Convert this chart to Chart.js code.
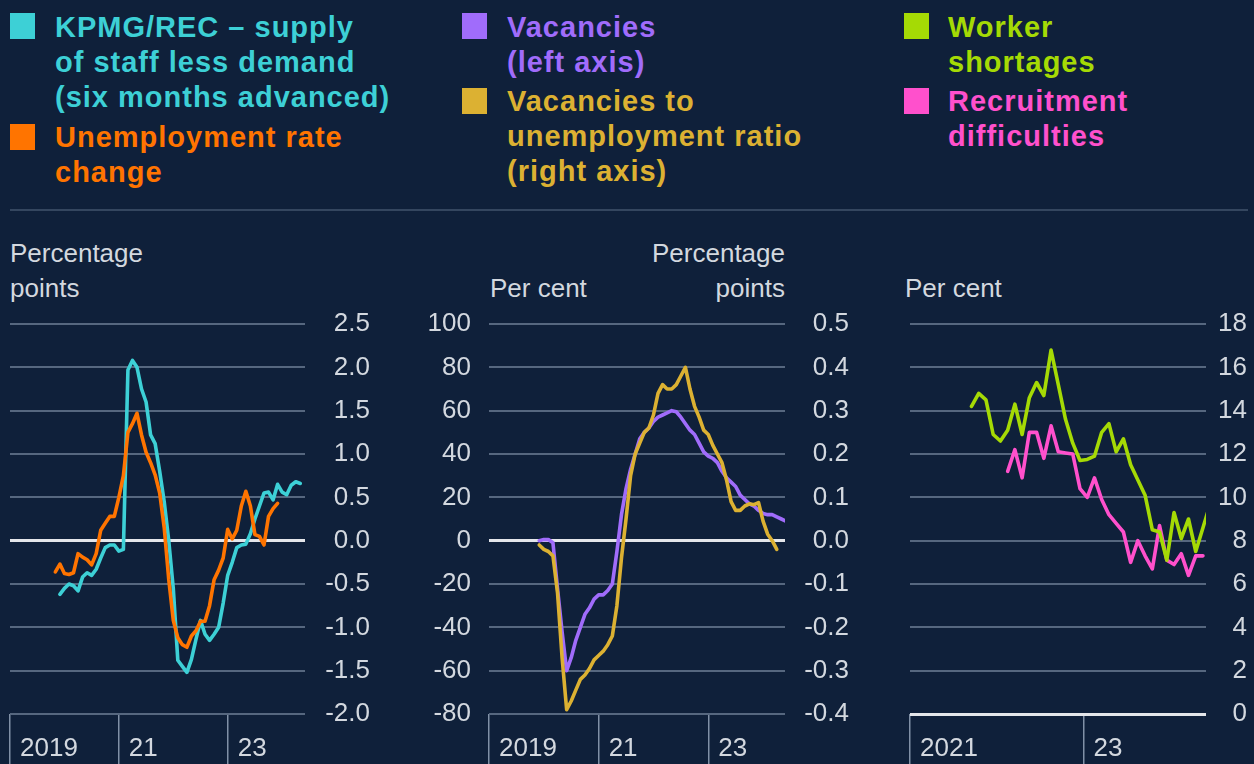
<!DOCTYPE html>
<html>
<head>
<meta charset="utf-8">
<script src="https://cdn.jsdelivr.net/npm/chart.js@4.4.1/dist/chart.umd.min.js"></script>
<style>
  html, body { margin: 0; padding: 0; }
  body {
    width: 1254px; height: 764px; overflow: hidden; position: relative;
    background: #0f203a; font-family: "Liberation Sans", Arial, sans-serif; color: #d3d8df;
  }
  .key { position: absolute; font-weight: bold; font-size: 29px; line-height: 35px; letter-spacing: 1px; }
  .sq { position: absolute; width: 25px; height: 26px; }
  .sep { position: absolute; left: 10px; top: 209px; width: 1238px; height: 2px; background: #34465f; }
  .ttl { position: absolute; font-size: 26px; line-height: 35px; color: #d3d8df; }
  canvas { position: absolute; }
</style>
</head>
<body>

<div class="sq" style="left:10px;top:13px;background:#3dd0d6"></div>
<div class="key" style="left:55px;top:10px;color:#3dd0d6">KPMG/REC – supply<br>of staff less demand<br>(six months advanced)</div>
<div class="sq" style="left:10px;top:124px;background:#ff7400"></div>
<div class="key" style="left:55px;top:120px;color:#ff7400">Unemployment rate<br>change</div>

<div class="sq" style="left:462px;top:13px;background:#a06cfb"></div>
<div class="key" style="left:507px;top:10px;color:#a06cfb">Vacancies<br>(left axis)</div>
<div class="sq" style="left:462px;top:88px;background:#dcb132"></div>
<div class="key" style="left:507px;top:84px;color:#dcb132">Vacancies to<br>unemployment ratio<br>(right axis)</div>

<div class="sq" style="left:904px;top:13px;background:#a5da05"></div>
<div class="key" style="left:948px;top:10px;color:#a5da05">Worker<br>shortages</div>
<div class="sq" style="left:904px;top:88px;background:#ff50cc"></div>
<div class="key" style="left:948px;top:84px;color:#ff50cc">Recruitment<br>difficulties</div>

<div class="sep"></div>

<div class="ttl" style="left:10px;top:236px">Percentage<br>points</div>
<div class="ttl" style="left:490px;top:271px">Per cent</div>
<div class="ttl" style="left:600px;top:236px;width:185px;text-align:right">Percentage<br>points</div>
<div class="ttl" style="left:905px;top:271px">Per cent</div>

<canvas id="c1" width="380" height="460" style="left:0;top:304px"></canvas>
<canvas id="c2" width="460" height="460" style="left:400px;top:304px"></canvas>
<canvas id="c3" width="374" height="460" style="left:880px;top:304px"></canvas>

<script>
// ---- data (monthly) ----
// panel 1: percentage points
const kpmgStart = [2019, 12];
const kpmgValues = [-0.62, -0.55, -0.50, -0.52, -0.58, -0.42, -0.37, -0.40, -0.33, -0.20,
  -0.08, -0.05, -0.05, -0.12, -0.10, 1.97, 2.08, 2.00, 1.75, 1.60,
  1.22, 1.12, 0.80, 0.45, 0.00, -0.55, -1.38, -1.45, -1.52, -1.37,
  -1.14, -0.92, -1.08, -1.15, -1.08, -1.00, -0.72, -0.40, -0.25, -0.08,
  -0.05, -0.04, 0.08, 0.25, 0.40, 0.55, 0.56, 0.47, 0.65, 0.56,
  0.53, 0.64, 0.68, 0.66];
const unempStart = [2019, 11];
const unempValues = [-0.36, -0.27, -0.38, -0.39, -0.37, -0.15, -0.19, -0.22, -0.28, -0.15,
  0.12, 0.20, 0.28, 0.28, 0.50, 0.75, 1.25, 1.35, 1.47, 1.22,
  1.02, 0.90, 0.76, 0.55, 0.15, -0.45, -0.92, -1.12, -1.20, -1.23,
  -1.10, -1.04, -0.93, -0.93, -0.75, -0.45, -0.34, -0.20, 0.13, 0.02,
  0.12, 0.40, 0.57, 0.40, 0.07, 0.05, -0.05, 0.28, 0.37, 0.43];

// panel 2: vacancies (per cent, left) and V/U ratio (percentage points, right)
const vacStart = [2019, 12];
const vacValues = [0, 0.5, 0.5, -1, -22, -42, -60, -54, -46, -40,
  -34, -31, -27, -25, -25, -23, -20, -5, 12, 24,
  33, 40, 47, 50, 52, 55, 57, 58, 59, 60,
  59.5, 57, 54, 51, 49, 45, 41, 39, 38, 36,
  32, 29, 27, 25, 21, 19, 17, 16, 14, 12.5,
  12, 12, 11, 10, 9];
const vuStart = [2019, 12];
const vuValues = [-0.01, -0.02, -0.025, -0.035, -0.12, -0.27, -0.39, -0.37, -0.345, -0.32,
  -0.31, -0.295, -0.275, -0.265, -0.255, -0.24, -0.22, -0.15, -0.04, 0.05,
  0.15, 0.20, 0.225, 0.25, 0.26, 0.29, 0.34, 0.36, 0.35, 0.35,
  0.36, 0.38, 0.40, 0.35, 0.31, 0.285, 0.255, 0.245, 0.22, 0.20,
  0.18, 0.14, 0.09, 0.07, 0.07, 0.08, 0.085, 0.083, 0.088, 0.045,
  0.015, 0.0, -0.02];

// panel 3: survey measures, per cent (mid-month)
const shortStart = [2021, 9];
const shortValues = [14.2, 14.8, 14.5, 12.9, 12.6, 13.1, 14.3, 12.9, 14.6, 15.3,
  14.7, 16.8, 15.2, 13.6, 12.5, 11.7, 11.75, 11.9, 13.0, 13.4,
  12.1, 12.7, 11.5, 10.8, 10.1, 8.5, 8.4, 7.1, 9.3, 8.1,
  9.0, 7.5, 8.6, 9.7];
const recruitStart = [2022, 2];
const recruitValues = [11.2, 12.2, 10.9, 13.0, 13.0, 11.8, 13.3, 12.1, 12.05, 12.0,
  10.4, 10.0, 10.9, 9.9, 9.2, 8.8, 8.4, 7.0, 8.0, 7.3,
  6.7, 8.7, 7.1, 6.9, 7.4, 6.4, 7.3, 7.3];

// axis ticks
const yTicks1 = [-2.0, -1.5, -1.0, -0.5, 0.0, 0.5, 1.0, 1.5, 2.0, 2.5];
const yTicks2L = [-80, -60, -40, -20, 0, 20, 40, 60, 80, 100];
const yTicks2R = [-0.4, -0.3, -0.2, -0.1, 0.0, 0.1, 0.2, 0.3, 0.4, 0.5];
const yTicks3 = [0, 2, 4, 6, 8, 10, 12, 14, 16, 18];
const xTicks12 = [2019, 2021, 2023];
const xLabels12 = ['2019', '21', '23'];
const xTicks3 = [2021, 2023];
const xLabels3 = ['2021', '23'];

const COLORS = {
  kpmg: '#3dd0d6', unemp: '#ff7400', vac: '#a06cfb', vu: '#dcb132',
  short: '#a5da05', recruit: '#ff50cc'
};
const GRID = '#56677f';
const ZERO = '#e4e6ea';
const TEXT = '#d3d8df';
const FONT = { family: '"Liberation Sans", Arial, sans-serif', size: 26 };

function monthly(start, values, mid) {
  return values.map((v, i) => ({ x: start[0] + (start[1] - 1 + i + (mid ? 0.5 : 0)) / 12, y: v }));
}

function line(data, color, axis) {
  return { data, borderColor: color, borderWidth: 3.6, pointRadius: 0, tension: 0,
    borderJoinStyle: 'round', borderCapStyle: 'round', yAxisID: axis || 'y' };
}

function xScale(min, max, ticks, labels) {
  return {
    type: 'linear', position: 'bottom', min, max,
    afterBuildTicks: s => { s.ticks = ticks.map(v => ({ value: v })); },
    afterFit: s => { s.height = 50; s.paddingLeft = 0; s.paddingRight = 0; },
    border: { display: false },
    grid: { drawOnChartArea: false, drawTicks: true, tickLength: 50, color: '#8090a6', lineWidth: 1.5 },
    ticks: {
      color: TEXT, font: FONT, align: 'start', labelOffset: 10, padding: -31, maxRotation: 0,
      callback: v => labels[ticks.indexOf(v)]
    }
  };
}

function yScale(position, ticks, width, padding, zeroAt, fmt) {
  return {
    type: 'linear', position, min: ticks[0], max: ticks[ticks.length - 1],
    afterBuildTicks: s => { s.ticks = ticks.map(v => ({ value: v })); },
    afterFit: s => { s.width = width; s.paddingTop = 0; s.paddingBottom = 0; },
    border: { display: false },
    grid: {
      drawTicks: false,
      drawOnChartArea: zeroAt !== null,
      color: c => (c.tick && c.tick.value === zeroAt) ? ZERO : GRID,
      lineWidth: c => (c.tick && c.tick.value === zeroAt) ? 3 : 2
    },
    ticks: { color: TEXT, font: FONT, padding, crossAlign: position === 'right' ? 'far' : 'near',
      callback: fmt }
  };
}

const baseOpts = {
  responsive: false, animation: false, devicePixelRatio: 1,
  plugins: { legend: { display: false }, tooltip: { enabled: false } }
};

// panel 1: chart area 10..305, labels right-aligned at 370
new Chart(document.getElementById('c1'), {
  type: 'line',
  data: { datasets: [
    line(monthly(unempStart, unempValues), COLORS.unemp),
    line(monthly(kpmgStart, kpmgValues), COLORS.kpmg)
  ] },
  options: Object.assign({}, baseOpts, {
    layout: { padding: { left: 10, top: 20, right: 10, bottom: 0 } },
    scales: {
      x: xScale(2019, 2024.42, xTicks12, xLabels12),
      y: yScale('right', yTicks1, 65, 0, 0, v => v.toFixed(1))
    }
  })
});

// panel 2: chart area 489..785
new Chart(document.getElementById('c2'), {
  type: 'line',
  data: { datasets: [
    line(monthly(vuStart, vuValues), COLORS.vu, 'y2'),
    line(monthly(vacStart, vacValues), COLORS.vac, 'y')
  ] },
  options: Object.assign({}, baseOpts, {
    layout: { padding: { left: 0, top: 20, right: 11, bottom: 0 } },
    scales: {
      x: xScale(2019, 2024.4, xTicks12, xLabels12),
      y: yScale('left', yTicks2L, 89, 18, 0, v => String(v)),
      y2: yScale('right', yTicks2R, 64, 0, null, v => v.toFixed(1))
    }
  })
});

// panel 3: chart area 910..1206
new Chart(document.getElementById('c3'), {
  type: 'line',
  data: { datasets: [
    line(monthly(shortStart, shortValues, true), COLORS.short),
    line(monthly(recruitStart, recruitValues, true), COLORS.recruit)
  ] },
  options: Object.assign({}, baseOpts, {
    layout: { padding: { left: 30, top: 20, right: 7, bottom: 0 } },
    scales: {
      x: xScale(2021, 2024.41, xTicks3, xLabels3),
      y: yScale('right', yTicks3, 41, 0, 0, v => String(v))
    }
  })
});
</script>
</body>
</html>
